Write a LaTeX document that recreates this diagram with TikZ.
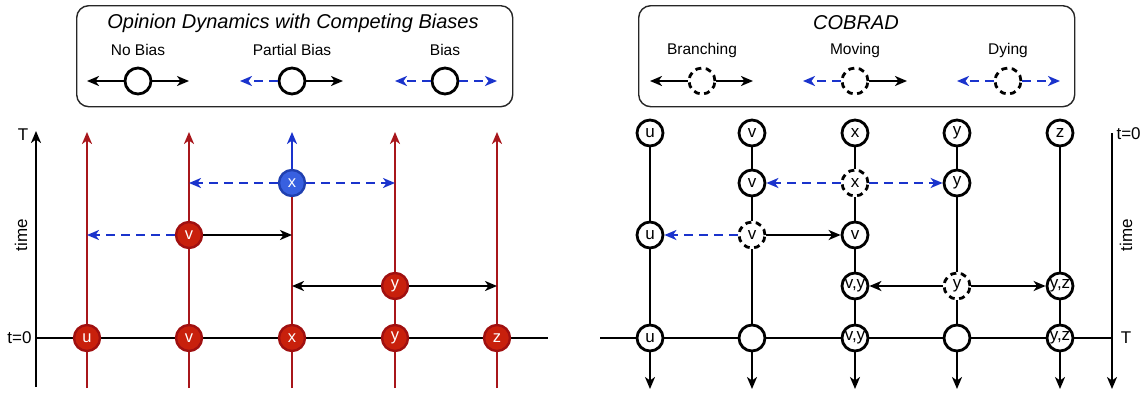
\documentclass[tikz,border=0pt]{standalone}
\usepackage{fontspec}
\setmainfont{Liberation Sans}
\usetikzlibrary{arrows.meta}
\definecolor{rfill}{RGB}{200,32,12}
\definecolor{rdraw}{RGB}{160,16,16}
\definecolor{rline}{RGB}{168,22,27}
\definecolor{bfill}{RGB}{56,96,224}
\definecolor{bdraw}{RGB}{32,64,176}
\definecolor{bline}{RGB}{26,51,204}
\begin{document}
\begin{tikzpicture}[x=1pt,y=-1pt,
  ln/.style={line width=2.8pt},
  tip/.style={-{Stealth[length=12pt,width=10pt,inset=3.5pt]}},
  rl/.style={rline,line width=2.8pt},
  bl/.style={bline,line width=2.8pt},
  bd/.style={bline,line width=2.8pt,dash pattern=on 9pt off 6pt},
  rnode/.style={circle,draw=rdraw,fill=rfill,line width=2.4pt,minimum size=26pt,inner sep=0pt,text=white,font=\fontsize{16.5}{16.5}\selectfont},
  bnode/.style={rnode,draw=bdraw,fill=bfill},
  wnode/.style={circle,draw,fill=white,line width=2.8pt,minimum size=26pt,inner sep=0pt,font=\fontsize{17}{17}\selectfont},
  dnode/.style={wnode,dash pattern=on 6pt off 4.5pt},
  legbox/.style={draw=black!85,rounded corners=12pt,line width=1.4pt},
  lab/.style={font=\fontsize{15.5}{16}\selectfont},
  ttl/.style={font=\itshape\fontsize{20}{20}\selectfont},
  axlab/.style={font=\fontsize{17}{17}\selectfont},
]
\useasboundingbox (0,0) rectangle (1146,397);

% ---------------- Legend left ----------------
\node[legbox,minimum width=436pt,minimum height=101pt,anchor=north west] (boxL) at (76,5) {};
\node[ttl] (ttlL) at (293,23) {Opinion Dynamics with Competing Biases};
\node[lab] (labA) at (138,50) {No Bias};
\node[lab] (labB) at (292,50) {Partial Bias};
\node[lab] (labC) at (445,50) {Bias};
\node[wnode] (gA) at (138,81) {};
\node[wnode] (gB) at (292,81) {};
\node[wnode] (gC) at (445,81) {};
\coordinate (gAl) at (87,81); \coordinate (gAr) at (189,81);
\coordinate (gBl) at (240,81); \coordinate (gBr) at (343,81);
\coordinate (gCl) at (395,81); \coordinate (gCr) at (497,81);
\draw[ln,tip] (gA) -- (gAl);
\draw[ln,tip] (gA) -- (gAr);
\draw[bd,tip] (gB) -- (gBl);
\draw[ln,tip] (gB) -- (gBr);
\draw[bd,tip] (gC) -- (gCl);
\draw[bd,tip] (gC) -- (gCr);

% ---------------- Legend right ----------------
\node[legbox,minimum width=436pt,minimum height=101pt,anchor=north west] (boxR) at (638,5) {};
\node[ttl] (ttlR) at (856,23) {COBRAD};
\node[lab] (labD) at (702,50) {Branching};
\node[lab] (labE) at (855,50) {Moving};
\node[lab] (labF) at (1008,50) {Dying};
\node[dnode] (hA) at (702,81) {};
\node[dnode] (hB) at (855,81) {};
\node[dnode] (hC) at (1008,81) {};
\coordinate (hAl) at (650,81); \coordinate (hAr) at (753,81);
\coordinate (hBl) at (803,81); \coordinate (hBr) at (907,81);
\coordinate (hCl) at (957,81); \coordinate (hCr) at (1060,81);
\draw[ln,tip] (hA) -- (hAl);
\draw[ln,tip] (hA) -- (hAr);
\draw[bd,tip] (hB) -- (hBl);
\draw[ln,tip] (hB) -- (hBr);
\draw[bd,tip] (hC) -- (hCl);
\draw[bd,tip] (hC) -- (hCr);

% ---------------- Left diagram ----------------
\coordinate (LaxB) at (36,387);
\coordinate (LaxT) at (36,131);
\draw[ln,tip] (LaxB) -- (LaxT);
\node[axlab] (LT) at (23,135) {T};
\node[axlab,rotate=90] (Ltime) at (21,235) {time};
\node[axlab,anchor=east] (Lt0) at (35,338) {t=0};
\coordinate (LbaseL) at (36,338);
\coordinate (LbaseR) at (548,338);
\draw[ln] (LbaseL) -- (LbaseR);

\coordinate (Lb1) at (87,388);  \coordinate (Lt1) at (87,132);
\coordinate (Lb2) at (189,388); \coordinate (Lt2) at (189,132);
\coordinate (Lb3) at (292,388); \coordinate (Lt3) at (292,132);
\coordinate (Lb4) at (395,388); \coordinate (Lt4) at (395,132);
\coordinate (Lb5) at (497,388); \coordinate (Lt5) at (497,132);
\draw[rl,tip] (Lb1) -- (Lt1);
\draw[rl,tip] (Lb2) -- (Lt2);
\draw[rl,tip] (Lb4) -- (Lt4);
\draw[rl,tip] (Lb5) -- (Lt5);

\node[rnode] (lu0) at (87,338) {u};
\node[rnode] (lv0) at (189,338) {v};
\node[rnode] (ly0) at (395,338) {y};
\node[rnode] (lz0) at (497,338) {z};
\node[rnode] (lv) at (189,235) {v};
\node[rnode] (ly) at (395,286) {y};
\node[bnode] (lx) at (292,183) {x};
\draw[rl] (Lb3) -- (lx);
\draw[bl,tip] (lx) -- (Lt3);
\node[rnode] (lx0) at (292,338) {x};

\draw[bd,tip] (lx) -- (lx -| Lt2);
\draw[bd,tip] (lx) -- (lx -| Lt4);
\draw[bd,tip] (lv) -- (lv -| Lt1);
\draw[ln,tip] (lv) -- (lv -| Lt3);
\draw[ln,tip] (ly) -- (ly -| Lt3);
\draw[ln,tip] (ly) -- (ly -| Lt5);

% ---------------- Right diagram ----------------
\coordinate (RaxT) at (1112,133);
\coordinate (RaxB) at (1112,389);
\draw[ln,tip] (RaxT) -- (RaxB);
\node[axlab,anchor=west] (Rt0) at (1113,134) {t=0};
\node[axlab,rotate=90] (Rtime) at (1126,235) {time};
\node[axlab] (RT) at (1126,338) {T};

% row 1
\node[wnode] (ru1) at (650,133) {u};
\node[wnode] (rv1) at (752,133) {v};
\node[wnode] (rx1) at (855,133) {x};
\node[wnode] (ry1) at (957,133) {y};
\node[wnode] (rz1) at (1060,133) {z};
% row 2
\node[wnode] (rv2) at (752,183) {v};
\node[dnode] (rx2) at (855,183) {x};
\node[wnode] (ry2) at (957,183) {y};
% row 3
\node[wnode] (ru3) at (650,235) {u};
\node[dnode] (rv3) at (752,235) {v};
\node[wnode] (rx3) at (855,235) {v};
% row 4
\node[wnode] (rx4) at (855,286) {v,y};
\node[dnode] (ry4) at (957,286) {y};
\node[wnode] (rz4) at (1060,286) {y,z};
% row 5
\node[wnode] (ru5) at (650,338) {u};
\node[wnode] (rv5) at (752,338) {};
\node[wnode] (rx5) at (855,338) {v,y};
\node[wnode] (ry5) at (957,338) {};
\node[wnode] (rz5) at (1060,338) {y,z};

\coordinate (RbaseL) at (600,338);
\draw[ln] (RbaseL) -- (ru5) -- (rv5) -- (rx5) -- (ry5) -- (rz5) -- (RaxB |- rz5);

\coordinate (Re1) at (650,389);
\coordinate (Re2) at (752,389);
\coordinate (Re3) at (855,389);
\coordinate (Re4) at (957,389);
\coordinate (Re5) at (1060,389);

\draw[ln] (ru1) -- (ru3) -- (ru5);
\draw[ln,tip] (ru5) -- (Re1);
\draw[ln] (rv1) -- (rv2) -- (rv3) -- (rv5);
\draw[ln,tip] (rv5) -- (Re2);
\draw[ln] (rx1) -- (rx2) -- (rx3) -- (rx4) -- (rx5);
\draw[ln,tip] (rx5) -- (Re3);
\draw[ln] (ry1) -- (ry2) -- (ry4) -- (ry5);
\draw[ln,tip] (ry5) -- (Re4);
\draw[ln] (rz1) -- (rz4) -- (rz5);
\draw[ln,tip] (rz5) -- (Re5);

\draw[bd,tip] (rx2) -- (rv2);
\draw[bd,tip] (rx2) -- (ry2);
\draw[bd,tip] (rv3) -- (ru3);
\draw[ln,tip] (rv3) -- (rx3);
\draw[ln,tip] (ry4) -- (rx4);
\draw[ln,tip] (ry4) -- (rz4);
\end{tikzpicture}
\end{document}
